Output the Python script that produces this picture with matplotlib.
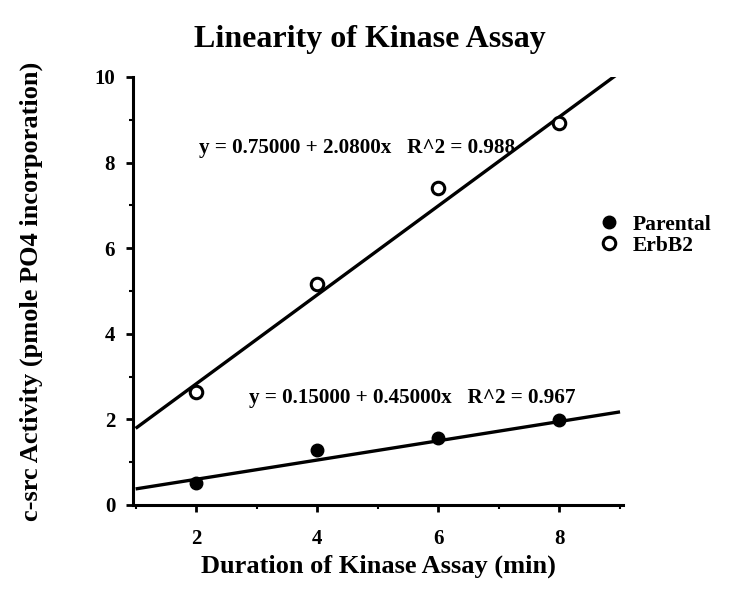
import numpy as np
import matplotlib
matplotlib.use("Agg")
import matplotlib.pyplot as plt
from matplotlib.ticker import MultipleLocator

# dados
tempo = [2, 4, 6, 8]
parental = [0.52, 1.28, 1.56, 1.99]
erbb2 = [2.65, 5.16, 7.40, 8.92]

# ajustes lineares impressos na figura (x = indice 1..4, ou seja tempo/2)
fit_parental = (0.15000, 0.45000, 0.967)
fit_erbb2 = (0.75000, 2.0800, 0.988)

plt.rcParams["font.family"] = ["Liberation Serif", "DejaVu Serif"]
plt.rcParams["font.weight"] = "bold"

fig = plt.figure(figsize=(7.4, 5.92), dpi=100)
ax = fig.add_axes([0.18, 0.147, 0.662, 0.723])

xs = np.array([1.0, 9.0])
for (a, b, _) in (fit_erbb2, fit_parental):
    ax.plot(xs, a + b * xs / 2, color="black", lw=2.4, solid_capstyle="butt", zorder=2)

ax.plot(tempo, parental, "o", color="black", ms=9, zorder=3, label="Parental")
ax.plot(tempo, erbb2, "o", mfc="white", mec="black", mew=2.2, ms=9, zorder=3, label="ErbB2")

ax.text(2.05, 8.34, "y = %.5f + %.4fx   R^2 = %.3f" % fit_erbb2,
        fontsize=15.2, fontweight="bold", va="center", ha="left")
ax.text(2.87, 2.5, "y = %.5f + %.5fx   R^2 = %.3f" % fit_parental,
        fontsize=15.2, fontweight="bold", va="center", ha="left")

ax.set_xlim(0.96, 9.05)
ax.set_ylim(0, 10)
ax.set_xticks([2, 4, 6, 8])
ax.set_yticks([0, 2, 4, 6, 8, 10])
ax.xaxis.set_minor_locator(MultipleLocator(1))
ax.yaxis.set_minor_locator(MultipleLocator(1))
ax.tick_params(which="major", direction="out", length=5, width=2, labelsize=15, pad=12)
ax.tick_params(which="minor", direction="out", length=3, width=1.5)
ax.tick_params(axis="y", pad=8)
for lab in ax.get_xticklabels() + ax.get_yticklabels():
    lab.set_fontweight("bold")
for s in ("top", "right"):
    ax.spines[s].set_visible(False)
for s in ("left", "bottom"):
    ax.spines[s].set_linewidth(2.2)

ax.set_xlabel("Duration of Kinase Assay (min)", fontsize=19, fontweight="bold", labelpad=4)
ax.set_ylabel("c-src Activity (pmole PO4 incorporation)", fontsize=19, fontweight="bold", labelpad=37)
fig.text(0.5, 0.933, "Linearity of Kinase Assay", fontsize=23, fontweight="bold",
         ha="center", va="center")

fig.legend(loc="upper left", bbox_to_anchor=(0.782, 0.67), frameon=False,
           fontsize=15.5, handletextpad=0.6, labelspacing=0.05, handlelength=1.0)

fig.savefig("out.png", dpi=100)
